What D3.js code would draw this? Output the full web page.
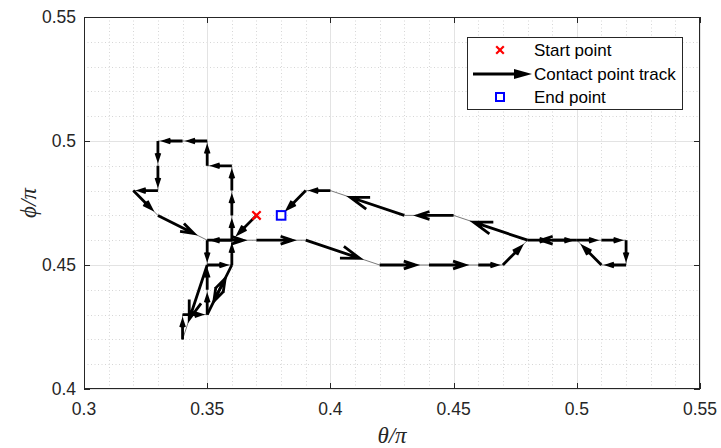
<!DOCTYPE html>
<html>
<head>
<meta charset="utf-8">
<script src="https://cdn.jsdelivr.net/npm/d3@7/dist/d3.min.js"></script>
<style>
  body { margin: 0; background: #fff; }
  svg { display: block; }
  text { font-family: "Liberation Sans", Arial, Helvetica, sans-serif; }
</style>
</head>
<body>
<svg id="chart" width="721" height="448"></svg>
<script>
// Contact point track in (theta/pi, phi/pi), in visiting order
const trackTheta = [0.37, 0.36, 0.35, 0.35, 0.34, 0.34, 0.35, 0.35, 0.35, 0.36,
                    0.35, 0.36, 0.36, 0.36, 0.36, 0.36, 0.35, 0.35, 0.34, 0.33,
                    0.33, 0.33, 0.32, 0.33, 0.35, 0.37, 0.39, 0.42, 0.44, 0.46,
                    0.47, 0.48, 0.49, 0.50, 0.51, 0.52, 0.52, 0.51, 0.50, 0.48,
                    0.45, 0.43, 0.40, 0.39, 0.38];
const trackPhi   = [0.47, 0.46, 0.46, 0.45, 0.42, 0.43, 0.43, 0.44, 0.45, 0.45,
                    0.43, 0.45, 0.46, 0.47, 0.48, 0.49, 0.49, 0.50, 0.50, 0.50,
                    0.49, 0.48, 0.48, 0.47, 0.46, 0.46, 0.46, 0.45, 0.45, 0.45,
                    0.45, 0.46, 0.46, 0.46, 0.46, 0.46, 0.45, 0.45, 0.46, 0.46,
                    0.47, 0.47, 0.48, 0.48, 0.47];
const startPoint = [0.37, 0.47];
const endPoint   = [0.38, 0.47];

const xDomain = [0.3, 0.55];
const yDomain = [0.4, 0.55];
const xTicks = [0.3, 0.35, 0.4, 0.45, 0.5, 0.55];
const xTickLabels = ["0.3", "0.35", "0.4", "0.45", "0.5", "0.55"];
const yTicks = [0.4, 0.45, 0.5, 0.55];
const yTickLabels = ["0.4", "0.45", "0.5", "0.55"];
const minorStep = 0.01;
const legendLabels = ["Start point", "Contact point track", "End point"];

// quiver-style arrow geometry
const arrowScale = 0.73;   // arrow length relative to step
const headAlpha = 0.33;    // head length relative to arrow length
const headBeta = 0.33;     // head width relative to head length

const W = 721, H = 448;
const m = { left: 84, top: 17, right: 21, bottom: 59 };
const pw = W - m.left - m.right, ph = H - m.top - m.bottom;

const svg = d3.select("#chart");
const x = d3.scaleLinear().domain(xDomain).range([m.left, m.left + pw]);
const y = d3.scaleLinear().domain(yDomain).range([m.top + ph, m.top]);

const axisColor = "#262626";

// minor grid (dotted)
const xMinor = d3.range(Math.round((xDomain[1] - xDomain[0]) / minorStep) + 1)
  .map(i => xDomain[0] + i * minorStep).filter(v => !xTicks.some(t => Math.abs(t - v) < 1e-9));
const yMinor = d3.range(Math.round((yDomain[1] - yDomain[0]) / minorStep) + 1)
  .map(i => yDomain[0] + i * minorStep).filter(v => !yTicks.some(t => Math.abs(t - v) < 1e-9));

const grid = svg.append("g");
grid.selectAll(".xm").data(xMinor).join("line")
  .attr("x1", d => Math.round(x(d)) + 0.5).attr("x2", d => Math.round(x(d)) + 0.5)
  .attr("y1", m.top).attr("y2", m.top + ph)
  .attr("stroke", "#d6d6d6").attr("stroke-width", 1).attr("stroke-dasharray", "1,2.5");
grid.selectAll(".ym").data(yMinor).join("line")
  .attr("y1", d => Math.round(y(d)) + 0.5).attr("y2", d => Math.round(y(d)) + 0.5)
  .attr("x1", m.left).attr("x2", m.left + pw)
  .attr("stroke", "#d6d6d6").attr("stroke-width", 1).attr("stroke-dasharray", "1,2.5");
// major grid (solid)
grid.selectAll(".xM").data(xTicks).join("line")
  .attr("x1", d => Math.round(x(d)) + 0.5).attr("x2", d => Math.round(x(d)) + 0.5)
  .attr("y1", m.top).attr("y2", m.top + ph)
  .attr("stroke", "#e3e3e3").attr("stroke-width", 1);
grid.selectAll(".yM").data(yTicks).join("line")
  .attr("y1", d => Math.round(y(d)) + 0.5).attr("y2", d => Math.round(y(d)) + 0.5)
  .attr("x1", m.left).attr("x2", m.left + pw)
  .attr("stroke", "#e3e3e3").attr("stroke-width", 1);

svg.append("clipPath").attr("id", "plotclip").append("rect")
  .attr("x", m.left).attr("y", m.top).attr("width", pw).attr("height", ph);
const plot = svg.append("g").attr("clip-path", "url(#plotclip)");

const pts = trackTheta.map((t, i) => [x(t), y(trackPhi[i])]);

// thin connecting track
plot.append("path")
  .attr("d", d3.line()(pts))
  .attr("fill", "none").attr("stroke", "#7a7a7a").attr("stroke-width", 1);

// arrows between successive points
function arrowPath(p0, p1, s) {
  const u = (p1[0] - p0[0]) * s, v = (p1[1] - p0[1]) * s;
  const tx = p0[0] + u, ty = p0[1] + v;
  const b1 = [tx - headAlpha * (u + headBeta * v), ty - headAlpha * (v - headBeta * u)];
  const b2 = [tx - headAlpha * (u - headBeta * v), ty - headAlpha * (v + headBeta * u)];
  const p = d3.path();
  p.moveTo(p0[0], p0[1]); p.lineTo(tx, ty);
  p.moveTo(b1[0], b1[1]); p.lineTo(tx, ty); p.lineTo(b2[0], b2[1]);
  return p.toString();
}
const segs = d3.pairs(pts);
plot.selectAll(".arrow").data(segs).join("path")
  .attr("d", d => arrowPath(d[0], d[1], arrowScale))
  .attr("fill", "none").attr("stroke", "#000").attr("stroke-width", 2.8)
  .attr("stroke-linejoin", "miter").attr("stroke-miterlimit", 10);

// start / end markers
function cross(g, cx, cy, r) {
  g.append("path")
    .attr("d", `M${cx - r},${cy - r}L${cx + r},${cy + r}M${cx - r},${cy + r}L${cx + r},${cy - r}`)
    .attr("stroke", "#ff0000").attr("stroke-width", 2.2).attr("fill", "none");
}
function square(g, cx, cy, r) {
  g.append("rect").attr("x", cx - r).attr("y", cy - r).attr("width", 2 * r).attr("height", 2 * r)
    .attr("fill", "#fff").attr("stroke", "#0000ff").attr("stroke-width", 2);
}
cross(plot, x(startPoint[0]), y(startPoint[1]), 4.2);
square(plot, x(endPoint[0]), y(endPoint[1]), 4.3);

// axes box with inward ticks
const ax = svg.append("g");
ax.append("rect").attr("x", m.left + 0.5).attr("y", m.top + 0.5)
  .attr("width", pw - 1).attr("height", ph - 1)
  .attr("fill", "none").attr("stroke", axisColor).attr("stroke-width", 1);
const tl = 6;
xTicks.forEach(t => {
  const px = Math.round(x(t)) + 0.5;
  ax.append("line").attr("x1", px).attr("x2", px).attr("y1", m.top + ph).attr("y2", m.top + ph - tl).attr("stroke", axisColor);
  ax.append("line").attr("x1", px).attr("x2", px).attr("y1", m.top).attr("y2", m.top + tl).attr("stroke", axisColor);
});
yTicks.forEach(t => {
  const py = Math.round(y(t)) + 0.5;
  ax.append("line").attr("y1", py).attr("y2", py).attr("x1", m.left).attr("x2", m.left + tl).attr("stroke", axisColor);
  ax.append("line").attr("y1", py).attr("y2", py).attr("x1", m.left + pw).attr("x2", m.left + pw - tl).attr("stroke", axisColor);
});
ax.selectAll(".xl").data(xTicks).join("text")
  .attr("x", d => x(d)).attr("y", m.top + ph + 26)
  .attr("text-anchor", "middle").attr("font-size", 17.5).attr("fill", axisColor)
  .text((d, i) => xTickLabels[i]);
ax.selectAll(".yl").data(yTicks).join("text")
  .attr("x", m.left - 8).attr("y", d => y(d) + 6)
  .attr("text-anchor", "end").attr("font-size", 17.5).attr("fill", axisColor)
  .text((d, i) => yTickLabels[i]);

// axis titles
svg.append("text").attr("x", m.left + pw / 2).attr("y", 443)
  .attr("text-anchor", "middle").attr("font-size", 23)
  .style("font-family", "'Liberation Serif', 'Times New Roman', serif").style("font-style", "italic")
  .attr("fill", axisColor).text("θ/π");
svg.append("text").attr("transform", `translate(36,${m.top + ph / 2}) rotate(-90)`)
  .attr("text-anchor", "middle").attr("font-size", 23)
  .style("font-family", "'Liberation Serif', 'Times New Roman', serif").style("font-style", "italic")
  .attr("fill", axisColor).text("ϕ/π");

// legend
const lg = svg.append("g");
lg.append("rect").attr("x", 467.5).attr("y", 37.5).attr("width", 215).attr("height", 72)
  .attr("fill", "#fff").attr("stroke", axisColor).attr("stroke-width", 1);
const rows = [50, 74, 97];
cross(lg, 500, rows[0], 3.8);
lg.append("line").attr("x1", 473).attr("x2", 518).attr("y1", rows[1]).attr("y2", rows[1])
  .attr("stroke", "#000").attr("stroke-width", 2.8);
lg.append("path").attr("d", `M532,${rows[1]}L514,${rows[1] - 5}L514,${rows[1] + 5}Z`).attr("fill", "#000");
square(lg, 500, rows[2], 4);
lg.selectAll(".lt").data(legendLabels).join("text")
  .attr("x", 534).attr("y", (d, i) => rows[i] + 6)
  .attr("font-size", 17).attr("fill", "#000")
  .text(d => d);
</script>
</body>
</html>
